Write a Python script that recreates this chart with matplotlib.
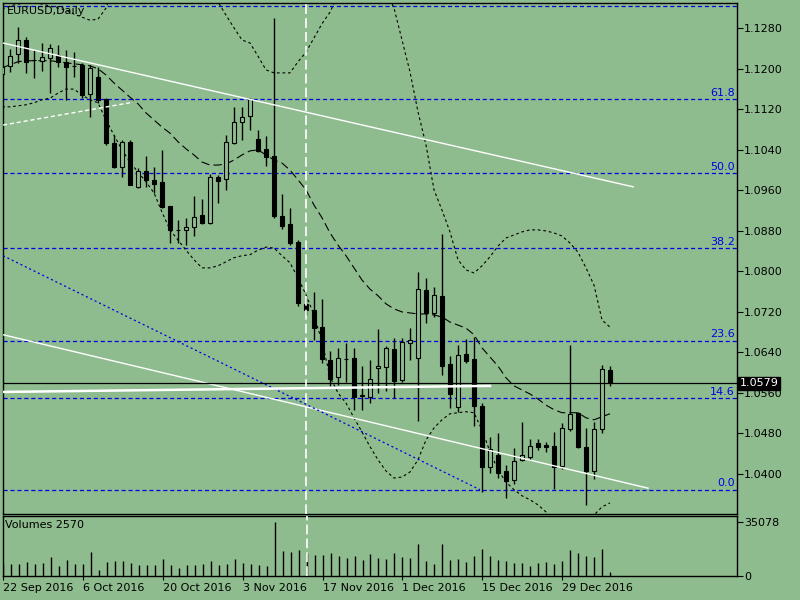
import matplotlib
matplotlib.use('Agg')
import matplotlib.pyplot as plt
import matplotlib.transforms as mtransforms
from matplotlib.patches import Rectangle

plt.rcParams['lines.scale_dashes'] = False
plt.rcParams['font.family'] = ['DejaVu Sans']

bg = '#8fbc8f'

# EURUSD daily, 22 Sep 2016 .. 6 Jan 2017
opens = [1.1190, 1.1206, 1.1229, 1.1257, 1.1217, 1.1216, 1.1221, 1.1227, 1.1213, 1.1206,
         1.1208, 1.1150, 1.1183, 1.1140, 1.1053, 1.1007, 1.1056, 1.0967, 1.0999, 1.0981,
         1.0976, 1.0929, 1.0882, 1.0881, 1.0888, 1.0912, 1.0895, 1.0987, 1.0982, 1.1054,
         1.1096, 1.1106, 1.1061, 1.1041, 1.1028, 1.0910, 1.0894, 1.0859, 1.0736, 1.0724,
         1.0691, 1.0625, 1.0592, 1.0628, 1.0629, 1.0554, 1.0553, 1.0610, 1.0611, 1.0646,
         1.0586, 1.0659, 1.0629, 1.0763, 1.0717, 1.0752, 1.0617, 1.0533, 1.0637, 1.0627,
         1.0534, 1.0413, 1.0438, 1.0405, 1.0388, 1.0428, 1.0434, 1.0462, 1.0458, 1.0456,
         1.0415, 1.0488, 1.0521, 1.0453, 1.0405, 1.0488, 1.0606]
highs = [1.1212, 1.1239, 1.1282, 1.1263, 1.1237, 1.1252, 1.1250, 1.1247, 1.1237, 1.1234,
         1.1211, 1.1208, 1.1204, 1.1142, 1.1069, 1.1060, 1.1060, 1.1004, 1.1027, 1.1006,
         1.1040, 1.0930, 1.0902, 1.0905, 1.0948, 1.0943, 1.0992, 1.0990, 1.1069, 1.1125,
         1.1125, 1.1142, 1.1079, 1.1067, 1.1300, 1.0953, 1.0925, 1.0862, 1.0750, 1.0760,
         1.0745, 1.0642, 1.0648, 1.0658, 1.0648, 1.0613, 1.0625, 1.0686, 1.0652, 1.0668,
         1.0668, 1.0689, 1.0798, 1.0787, 1.0770, 1.0874, 1.0633, 1.0655, 1.0666, 1.0670,
         1.0540, 1.0474, 1.0481, 1.0418, 1.0451, 1.0502, 1.0469, 1.0469, 1.0464, 1.0482,
         1.0500, 1.0655, 1.0523, 1.0490, 1.0502, 1.0615, 1.0613]
lows = [1.1184, 1.1194, 1.1211, 1.1192, 1.1182, 1.1196, 1.1152, 1.1204, 1.1138, 1.1184,
        1.1142, 1.1104, 1.1132, 1.1050, 1.1005, 1.0987, 1.0970, 1.0964, 1.0967, 1.0954,
        1.0925, 1.0857, 1.0856, 1.0852, 1.0869, 1.0894, 1.0894, 1.0936, 1.0961, 1.1052,
        1.1060, 1.1079, 1.1036, 1.1008, 1.0905, 1.0883, 1.0852, 1.0732, 1.0714, 1.0665,
        1.0620, 1.0573, 1.0576, 1.0582, 1.0527, 1.0527, 1.0540, 1.0560, 1.0563, 1.0550,
        1.0582, 1.0625, 1.0505, 1.0699, 1.0710, 1.0596, 1.0530, 1.0523, 1.0619, 1.0495,
        1.0365, 1.0402, 1.0392, 1.0352, 1.0381, 1.0425, 1.0428, 1.0448, 1.0444, 1.0370,
        1.0410, 1.0484, 1.0451, 1.0339, 1.0390, 1.0481, 1.0573]
closes = [1.1204, 1.1225, 1.1257, 1.1214, 1.1218, 1.1223, 1.1241, 1.1214, 1.1204, 1.1205,
          1.1148, 1.1202, 1.1138, 1.1054, 1.1007, 1.1056, 1.0971, 1.0999, 1.0981, 1.0973,
          1.0928, 1.0881, 1.0881, 1.0887, 1.0908, 1.0895, 1.0987, 1.0979, 1.1056, 1.1096,
          1.1104, 1.1140, 1.1038, 1.1025, 1.0910, 1.0890, 1.0856, 1.0738, 1.0723, 1.0689,
          1.0627, 1.0587, 1.0629, 1.0627, 1.0553, 1.0555, 1.0587, 1.0613, 1.0648, 1.0584,
          1.0661, 1.0665, 1.0765, 1.0717, 1.0754, 1.0613, 1.0558, 1.0635, 1.0623, 1.0534,
          1.0413, 1.0449, 1.0402, 1.0387, 1.0425, 1.0438, 1.0456, 1.0453, 1.0453, 1.0413,
          1.0490, 1.0519, 1.0454, 1.0405, 1.0488, 1.0607, 1.0579]
volumes = [8103, 7665, 8103, 9198, 8103, 8541, 12264, 6351, 10731, 8103,
           7665, 15768, 4161, 9198, 9636, 9636, 8541, 7446, 7008, 7008,
           10950, 7008, 5475, 7446, 7446, 7665, 9636, 7446, 8103, 10950,
           8541, 8103, 7008, 6351, 35078, 16206, 15987, 16863, 15111, 14016,
           14016, 15330, 13140, 11826, 12921, 10293, 14673, 11826, 11388, 15330,
           12483, 11826, 20805, 9855, 7665, 20805, 10293, 10950, 9198, 12921,
           17958, 12921, 10293, 9855, 8760, 8760, 6351, 8541, 8979, 8103,
           9636, 17301, 15330, 12921, 12483, 17958, 2570]

# Bollinger-style envelope
bb_upper = [1.1318, 1.1324, 1.1328, 1.1330, 1.1330, 1.1328, 1.1324, 1.1320, 1.1316, 1.1308,
            1.1302, 1.1296, 1.1298, 1.1320, 1.1365, 1.1415, 1.1454, 1.1474, 1.1494, 1.1504,
            1.1504, 1.1494, 1.1484, 1.1454, 1.1425, 1.1385, 1.1352, 1.1332, 1.1306, 1.1281,
            1.1257, 1.1251, 1.1225, 1.1198, 1.1192, 1.1192, 1.1192, 1.1214, 1.1233, 1.1261,
            1.1289, 1.1312, 1.1346, 1.1375, 1.1395, 1.1405, 1.1405, 1.1395, 1.1356, 1.1320,
            1.1257, 1.1194, 1.1115, 1.1050, 1.0961, 1.0921, 1.0878, 1.0823, 1.0803, 1.0797,
            1.0811, 1.0829, 1.0850, 1.0866, 1.0872, 1.0878, 1.0882, 1.0882, 1.0880, 1.0876,
            1.0870, 1.0856, 1.0838, 1.0807, 1.0773, 1.0704, 1.0690]
bb_mid = [1.1202, 1.1208, 1.1214, 1.1216, 1.1216, 1.1216, 1.1216, 1.1214, 1.1212, 1.1210,
          1.1208, 1.1206, 1.1200, 1.1188, 1.1172, 1.1158, 1.1144, 1.1131, 1.1113, 1.1099,
          1.1085, 1.1073, 1.1056, 1.1042, 1.1030, 1.1016, 1.1010, 1.1010, 1.1012, 1.1020,
          1.1030, 1.1038, 1.1040, 1.1030, 1.1020, 1.1014, 1.1000, 1.0981, 1.0961, 1.0931,
          1.0906, 1.0876, 1.0852, 1.0831, 1.0807, 1.0783, 1.0765, 1.0752, 1.0736, 1.0726,
          1.0720, 1.0718, 1.0716, 1.0716, 1.0714, 1.0710, 1.0700, 1.0694, 1.0688, 1.0675,
          1.0649, 1.0631, 1.0613, 1.0590, 1.0574, 1.0566, 1.0558, 1.0548, 1.0536, 1.0527,
          1.0521, 1.0521, 1.0521, 1.0511, 1.0507, 1.0513, 1.0519]
bb_lower = [1.1125, 1.1125, 1.1127, 1.1129, 1.1133, 1.1139, 1.1142, 1.1152, 1.1160, 1.1160,
            1.1148, 1.1139, 1.1133, 1.1099, 1.1069, 1.1040, 1.1016, 1.0996, 1.0977, 1.0955,
            1.0917, 1.0882, 1.0862, 1.0842, 1.0823, 1.0807, 1.0807, 1.0811, 1.0819, 1.0827,
            1.0831, 1.0833, 1.0842, 1.0848, 1.0846, 1.0831, 1.0817, 1.0787, 1.0754, 1.0714,
            1.0661, 1.0592, 1.0560, 1.0540, 1.0511, 1.0483, 1.0454, 1.0428, 1.0406, 1.0392,
            1.0394, 1.0404, 1.0428, 1.0467, 1.0491, 1.0507, 1.0519, 1.0521, 1.0523, 1.0521,
            1.0487, 1.0444, 1.0408, 1.0384, 1.0369, 1.0357, 1.0349, 1.0339, 1.0325, 1.0309,
            1.0300, 1.0296, 1.0296, 1.0306, 1.0319, 1.0335, 1.0343]

fib_prices = [1.1324, 1.1140, 1.0994, 1.0846, 1.0663, 1.0550, 1.0369]
fib_labels = ['', '61.8', '50.0', '38.2', '23.6', '14.6', '0.0']

price_ticks = [1.1280, 1.1200, 1.1120, 1.1040, 1.0960, 1.0880, 1.0800,
               1.0720, 1.0640, 1.0560, 1.0480, 1.0400]
date_pos = [0, 10, 20, 30, 40, 50, 60, 70]
date_labels = ['22 Sep 2016', '6 Oct 2016', '20 Oct 2016', '3 Nov 2016',
               '17 Nov 2016', '1 Dec 2016', '15 Dec 2016', '29 Dec 2016']

# drawn objects: (x0, p0, x1, p1)
upper_trend = (0.125, 1.1251, 78.9, 1.0967)
lower_trend = (0.125, 1.0675, 80.75, 1.0372)
dashed_trend = (0.125, 1.1089, 16.0, 1.1133)
blue_trend = (0.125, 1.0831, 59.75, 1.0369)
flat_line = (0.125, 1.0562, 61.0, 1.0574)
vline_bar = 38
last_price = 1.0579

n = len(closes)
xs = list(range(n))

fig = plt.figure(figsize=(8, 6), dpi=100, facecolor=bg)
ax = fig.add_axes([3 / 800, 86 / 600, 734 / 800, 511 / 600], facecolor=bg)
axv = fig.add_axes([3 / 800, 24 / 600, 734 / 800, 60 / 600], facecolor=bg)

# fibo levels
for p, lab in zip(fib_prices, fib_labels):
    ax.axhline(p, color='#0000e6', lw=0.9, dashes=(3, 2), zorder=1)
    if lab:
        ax.text(0.997, p + 0.0003, lab, transform=ax.get_yaxis_transform(),
                ha='right', va='bottom', color='#0000e6', fontsize=8)

# envelope lines
ax.plot(xs, bb_upper, color='black', lw=0.8, dashes=(2, 2), zorder=2)
ax.plot(xs, bb_lower, color='black', lw=0.8, dashes=(2, 2), zorder=2)
ax.plot(xs, bb_mid, color='black', lw=0.8, dashes=(6, 3), zorder=2)

# candles
for i in xs:
    o, h, l, c = opens[i], highs[i], lows[i], closes[i]
    ax.vlines(i, l, h, color='black', lw=1, zorder=3)
    bull = c >= o
    ax.add_patch(Rectangle((i - 0.3, min(o, c)), 0.6, abs(c - o),
                           facecolor=bg if bull else 'black', edgecolor='black',
                           lw=0.8, zorder=4))

# trendlines / objects
for t in (upper_trend, lower_trend):
    ax.plot([t[0], t[2]], [t[1], t[3]], color='white', lw=1, zorder=5)
ax.plot([dashed_trend[0], dashed_trend[2]], [dashed_trend[1], dashed_trend[3]],
        color='white', lw=1, dashes=(3, 2), zorder=5)
ax.plot([blue_trend[0], blue_trend[2]], [blue_trend[1], blue_trend[3]],
        color='#0000e6', lw=0.9, dashes=(1.5, 2), zorder=5)
ax.plot([flat_line[0], flat_line[2]], [flat_line[1], flat_line[3]],
        color='white', lw=1.8, zorder=5)
ax.axhline(last_price, color='black', lw=0.9, zorder=5)
for a in (ax, axv):
    a.axvline(vline_bar, color='white', lw=1.2, dashes=(7, 3), zorder=6)

ax.set_xlim(0.125, 91.875)
ax.set_ylim(1.0321, 1.1330)
ax.set_xticks([])
ax.yaxis.tick_right()
ax.set_yticks(price_ticks)
ax.set_yticklabels([f'{p:.4f}' for p in price_ticks])
ax.tick_params(axis='y', direction='out', length=4, width=0.8, labelsize=8, pad=1)

ax.text(1.004, last_price, f'{last_price:.4f}', transform=ax.get_yaxis_transform(),
        ha='left', va='center', color='white', fontsize=8, zorder=10,
        bbox=dict(facecolor='black', edgecolor='black', pad=1.2), clip_on=False)
ax.text(0.005, 0.995, 'EURUSD,Daily', transform=ax.transAxes, ha='left', va='top',
        fontsize=8, color='black')

# volumes
axv.vlines(xs, 0, volumes, color='black', lw=1)
axv.set_xlim(0.125, 91.875)
axv.set_ylim(0, 39200)
axv.yaxis.tick_right()
axv.set_yticks([0, 35078])
axv.set_yticklabels(['0', '35078'])
axv.tick_params(axis='y', direction='out', length=4, width=0.8, labelsize=8, pad=1)
axv.set_xticks(date_pos)
axv.set_xticklabels(date_labels, ha='left')
axv.tick_params(axis='x', direction='out', length=3, width=0.8, labelsize=8, pad=2)
axv.text(0.003, 0.93, f'Volumes {volumes[-1]}', transform=axv.transAxes,
         ha='left', va='top', fontsize=8)

for a in (ax, axv):
    for s in a.spines.values():
        s.set_color('black')
        s.set_linewidth(1)

fig.savefig('out.png', dpi=100, facecolor=bg)
